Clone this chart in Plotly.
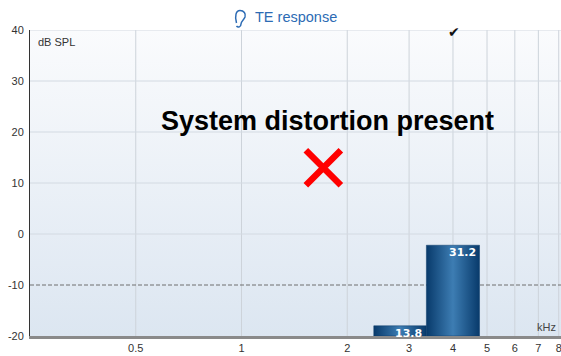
import math
import plotly.graph_objects as go

# Half-octave analysis bands (kHz) and the TE response measured in each
band_lo_khz = [2.38, 3.36]
band_hi_khz = [3.36, 4.76]
te_level_db = [-18.0, -2.2]
snr_db = [13.8, 31.2]

# Bands flagged as passed (check mark on top edge)
pass_khz = [4]

# Axes
freq_ticks = [0.5, 1, 2, 3, 4, 5, 6, 7, 8]
freq_tick_text = ["0.5", "1", "2", "3", "4", "5", "6", "7", "8"]
level_ticks = [-20, -10, 0, 10, 20, 30, 40]
level_tick_text = ["-20", "-10", "0", "10", "20", "30", "40"]
grid_levels = [0, 10, 20, 30, 40]
noise_ref_db = -10
x_min, x_max = 0.25, 8.12
y_min, y_max = -20, 40

# Marker position for the distortion warning
warn_khz, warn_db = 1.71, 13.0

FONT = "Liberation Sans, Arial, sans-serif"
fig = go.Figure()

# Plot-area background: soft vertical gradient
fig.add_trace(go.Scatter(
    x=[x_min, x_max, x_max, x_min, x_min],
    y=[y_min, y_min, y_max, y_max, y_min],
    mode="lines", line=dict(width=0), fill="toself",
    fillgradient=dict(type="vertical",
                      colorscale=[[0, "#dce6f1"], [1, "#fafbfd"]]),
    hoverinfo="skip", showlegend=False))

# Grid lines (drawn as traces so they sit above the background)
for f in freq_ticks:
    fig.add_trace(go.Scatter(x=[f, f], y=[y_min, y_max], mode="lines",
                             line=dict(color="#cdd3da", width=1),
                             hoverinfo="skip", showlegend=False))
for lv in grid_levels:
    fig.add_trace(go.Scatter(x=[x_min, x_max], y=[lv, lv], mode="lines",
                             line=dict(color="#d3dae2", width=1),
                             hoverinfo="skip", showlegend=False))
fig.add_trace(go.Scatter(x=[x_min, x_max], y=[noise_ref_db, noise_ref_db],
                         mode="lines",
                         line=dict(color="#6e6e6e", width=1, dash="4px,2px"),
                         hoverinfo="skip", showlegend=False))

# Band bars with a cylindrical shading
bar_scale = [[0, "#083a6b"], [0.5, "#3d7db3"], [1, "#083a6b"]]
for lo, hi, lv in zip(band_lo_khz, band_hi_khz, te_level_db):
    fig.add_trace(go.Scatter(
        x=[lo, hi, hi, lo, lo], y=[y_min, y_min, lv, lv, y_min],
        mode="lines", line=dict(width=0.5, color="#0a3a68"), fill="toself",
        fillgradient=dict(type="horizontal", colorscale=bar_scale),
        hoverinfo="skip", showlegend=False))

annotations = []
for hi, lv, s in zip(band_hi_khz, te_level_db, snr_db):
    annotations.append(dict(
        x=math.log10(hi), y=lv, xref="x", yref="y", text=f"{s:.1f}",
        showarrow=False, xanchor="right", yanchor="top", xshift=-2, yshift=1,
        font=dict(family="DejaVu Sans, Verdana, sans-serif", size=11,
                  color="white", weight="bold")))

# Pass marks on the top edge
for f in pass_khz:
    annotations.append(dict(
        x=math.log10(f), y=y_max, xref="x", yref="y", text="\u2714",
        showarrow=False, xanchor="center", yanchor="middle", yshift=-2,
        xshift=1, font=dict(family="DejaVu Sans", size=14, color="#111")))

# Warning marker
fig.add_trace(go.Scatter(
    x=[warn_khz], y=[warn_db], mode="markers",
    marker=dict(symbol="x-thin", size=35, color="#ff0000",
                line=dict(color="#ff0000", width=6.5)),
    hoverinfo="skip", showlegend=False))

annotations += [
    dict(x=0.561, y=22.2, xref="paper", yref="y",
         text="System distortion present", showarrow=False,
         xanchor="center", yanchor="middle",
         font=dict(family=FONT, size=27, color="#000", weight="bold")),
    dict(x=0.501, y=1.0, xref="paper", yref="paper", text="TE response",
         showarrow=False, xanchor="center", yanchor="bottom", yshift=3,
         font=dict(family=FONT, size=14.5, color="#2c6bb4")),
    dict(x=0.011, y=0.96, xref="paper", yref="paper", text="dB SPL",
         showarrow=False, xanchor="left", yanchor="middle",
         font=dict(family=FONT, size=11, color="#333")),
    dict(x=0.995, y=0.03, xref="paper", yref="paper", text="kHz",
         showarrow=False, xanchor="right", yanchor="middle",
         font=dict(family=FONT, size=11, color="#444")),
]


def px(xp, yp):
    # pixel position in the page -> paper coordinates of the plot area
    return (xp - 30) / 531, (336 - yp) / 306


ear_pts = [(236.5, 23), (234.5, 16), (236, 10.5), (240, 10.5), (244, 10.5),
           (246, 13.5), (245, 17), (244, 20), (241, 21), (241, 24),
           (241, 27), (238, 28), (236.5, 26)]
p = [px(a, b) for a, b in ear_pts]
ear_path = "M {0[0]},{0[1]} ".format(p[0])
for i in range(1, len(p), 3):
    ear_path += "C {0[0]},{0[1]} {1[0]},{1[1]} {2[0]},{2[1]} ".format(
        p[i], p[i + 1], p[i + 2])

fig.update_layout(
    width=561, height=356,
    margin=dict(l=30, r=0, t=30, b=20),
    paper_bgcolor="white", plot_bgcolor="#f0f4f9",
    font=dict(family=FONT, size=11, color="#333"),
    annotations=annotations,
    shapes=[dict(type="path", path=ear_path, xref="paper", yref="paper",
                 line=dict(color="#2c6bb4", width=1.5))],
    xaxis=dict(type="log", range=[math.log10(x_min), math.log10(x_max)],
               tickvals=freq_ticks, ticktext=freq_tick_text,
               showgrid=False, zeroline=False, ticks="",
               ticklabeloverflow="allow",
               showline=True, linecolor="#8a8a8a", linewidth=2.5,
               tickfont=dict(size=11, color="#333")),
    yaxis=dict(range=[y_min, y_max], tickvals=level_ticks,
               ticktext=level_tick_text,
               showgrid=False, zeroline=False, ticks="",
               showline=True, linecolor="#333", linewidth=1,
               ticklabelstandoff=3,
               tickfont=dict(size=11, color="#333")),
)

fig.write_html("out.html")
